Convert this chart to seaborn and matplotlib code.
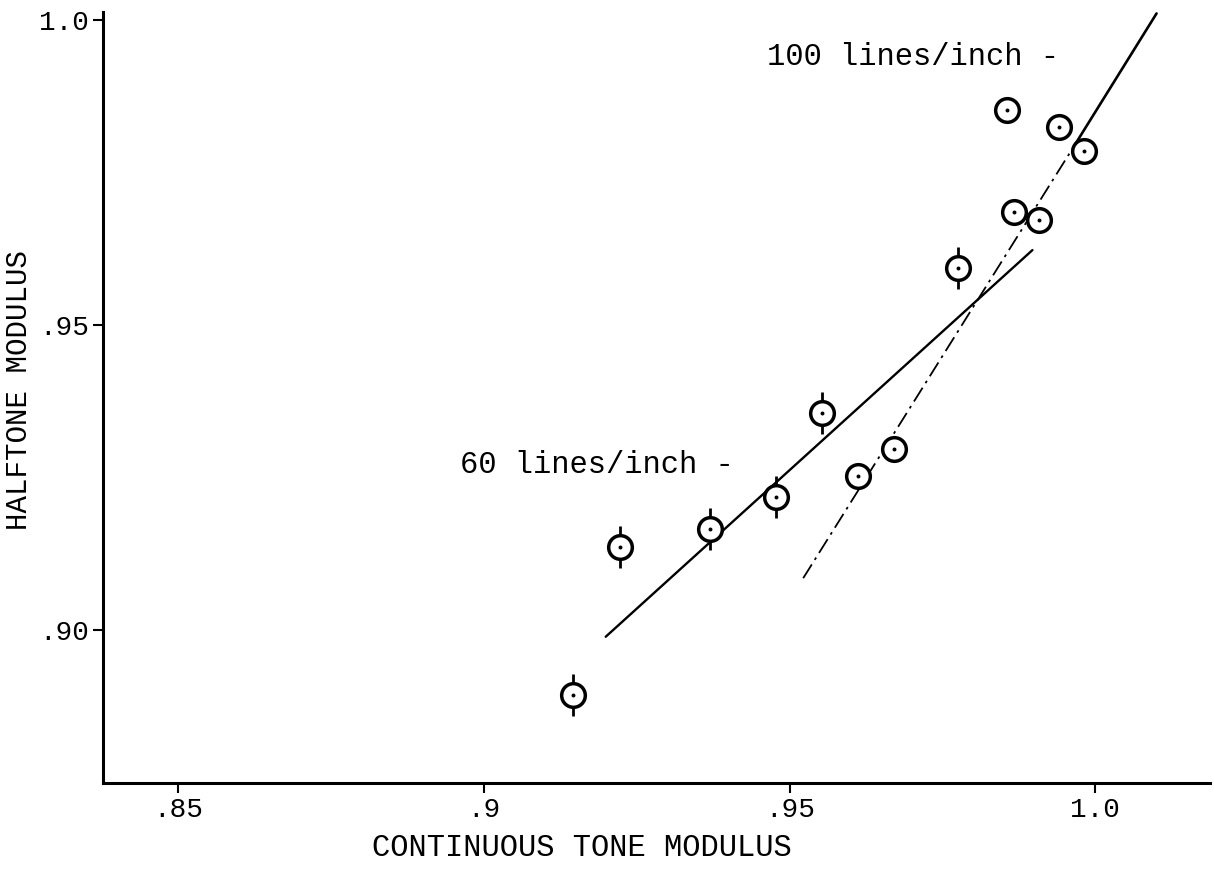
import seaborn as sns
import pandas as pd
import matplotlib.pyplot as plt

# measured points (continuous tone modulus vs halftone modulus)
x_cont = [0.9145, 0.9223, 0.9370, 0.9478, 0.9553, 0.9612, 0.9671,
          0.9776, 0.9856, 0.9866, 0.9908, 0.9940, 0.9982]
y_half = [0.8893, 0.9136, 0.9166, 0.9218, 0.9356, 0.9252, 0.9297,
          0.9593, 0.9852, 0.9685, 0.9672, 0.9825, 0.9785]
has_bar = [1, 1, 1, 1, 1, 0, 0, 1, 0, 0, 0, 0, 0]

# fitted lines
line60_x = [0.9199, 0.9897]
line60_y = [0.8989, 0.9623]
line100_dash_x = [0.9522, 0.9966]
line100_dash_y = [0.9085, 0.9795]
line100_solid_x = [0.9966, 1.0100]
line100_solid_y = [0.9795, 1.0011]

xticks = [0.85, 0.90, 0.95, 1.0]
xtick_labels = ['.85', '.9', '.95', '1.0']
yticks = [0.90, 0.95, 1.0]
ytick_labels = ['.90', '.95', '1.0']

df = pd.DataFrame({'x': x_cont, 'y': y_half, 'bar': has_bar})
bars = df[df['bar'] == 1]

sns.set_theme(style='white')
plt.rcParams['font.family'] = ['Liberation Mono', 'DejaVu Sans']
plt.rcParams['text.color'] = 'black'

fig, ax = plt.subplots(figsize=(12.14, 8.74), dpi=100)
fig.subplots_adjust(left=0.085, right=0.997, bottom=0.104, top=0.986)

sns.lineplot(x=line60_x, y=line60_y, color='black', lw=1.7, ax=ax)
sns.lineplot(x=line100_dash_x, y=line100_dash_y, color='black', lw=1.3,
             linestyle=(0, (9, 3, 1.5, 3)), ax=ax)
sns.lineplot(x=line100_solid_x, y=line100_solid_y, color='black', lw=1.9, ax=ax)

sns.scatterplot(data=bars, x='x', y='y', marker='|', s=900, color='black',
                linewidth=2.0, ax=ax, zorder=3)
sns.scatterplot(data=df, x='x', y='y', marker='o', s=290, facecolor='white',
                edgecolor='black', linewidth=2.5, ax=ax, zorder=4)
sns.scatterplot(data=df, x='x', y='y', marker='o', s=8, color='black',
                linewidth=0, ax=ax, zorder=5)

ax.text(0.8961, 0.9257, '60 lines/inch -', fontsize=22, va='baseline', color='black')
ax.text(0.9462, 0.9927, '100 lines/inch -', fontsize=22, va='baseline', color='black')

ax.set_xlim(0.8377, 1.0188)
ax.set_ylim(0.8749, 1.0013)
ax.set_xticks(xticks)
ax.set_xticklabels(xtick_labels, fontsize=20)
ax.set_yticks(yticks)
ax.set_yticklabels(ytick_labels, fontsize=20)
ax.tick_params(axis='both', direction='out', length=7, width=1.5,
               color='black', labelcolor='black', bottom=True, left=True, pad=3)

ax.set_xlabel('CONTINUOUS TONE MODULUS', fontsize=22, color='black', va='center')
ax.set_ylabel('HALFTONE MODULUS', fontsize=21, color='black', va='center')
ax.xaxis.set_label_coords(0.432, -0.084)
ax.yaxis.set_label_coords(-0.076, 0.51)

sns.despine(ax=ax)
for side in ['left', 'bottom']:
    ax.spines[side].set_color('black')
    ax.spines[side].set_linewidth(2.2)

fig.savefig('out.png', dpi=100)
